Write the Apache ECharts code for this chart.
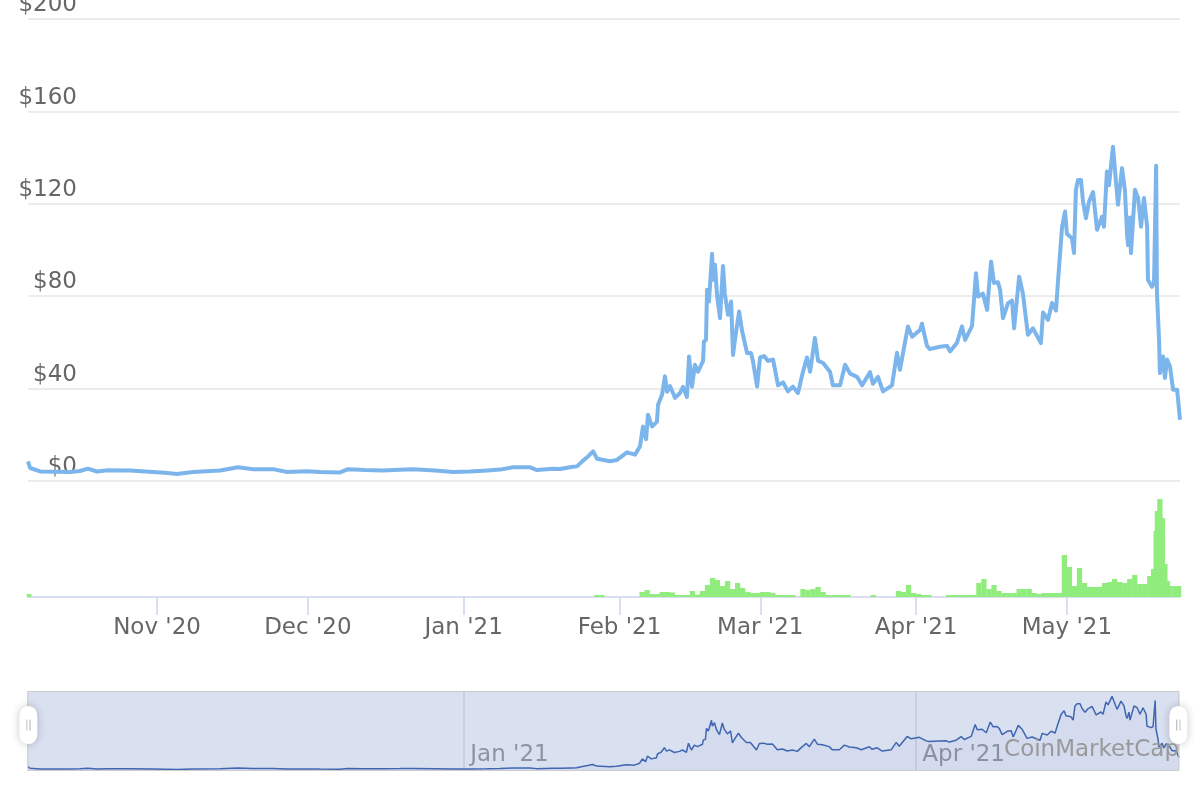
<!DOCTYPE html>
<html>
<head>
<meta charset="utf-8">
<script src="https://cdn.jsdelivr.net/npm/echarts@6/dist/echarts.min.js"></script>
<style>html,body{margin:0;padding:0;background:#fff}#c{width:1200px;height:800px}</style>
</head>
<body>
<div id="c"></div>
<script>
const priceTimes = [
'2020-10-06 08:00','2020-10-06 18:00','2020-10-07 03:00','2020-10-08 18:00','2020-10-11 17:00','2020-10-14 16:00','2020-10-16 16:00','2020-10-18 06:00','2020-10-20 01:00','2020-10-22 06:00','2020-10-26 15:00','2020-10-31 05:00',
'2020-11-02 14:00','2020-11-04 23:00','2020-11-08 04:00','2020-11-13 13:00','2020-11-17 03:00','2020-11-20 02:00','2020-11-24 02:00','2020-11-26 21:00','2020-11-30 20:00',
'2020-12-03 10:00','2020-12-07 10:00','2020-12-09 00:00','2020-12-12 09:00','2020-12-15 23:00','2020-12-19 08:00','2020-12-21 22:00','2020-12-26 07:00','2020-12-29 21:00',
'2021-01-02 06:00','2021-01-05 16:00','2021-01-08 06:00','2021-01-10 20:00','2021-01-14 05:00','2021-01-15 14:00','2021-01-18 19:00','2021-01-20 04:00','2021-01-22 18:00','2021-01-23 13:00','2021-01-24 18:00','2021-01-25 18:00','2021-01-26 18:00','2021-01-27 13:00','2021-01-30 03:00','2021-01-31 12:00',
'2021-02-02 12:00','2021-02-04 02:00','2021-02-05 02:00','2021-02-05 16:00','2021-02-06 07:00','2021-02-06 16:00','2021-02-07 11:00','2021-02-08 11:00','2021-02-08 16:00','2021-02-09 11:00','2021-02-10 01:00','2021-02-10 11:00','2021-02-11 01:00','2021-02-12 01:00','2021-02-13 01:00','2021-02-13 15:00','2021-02-14 10:00','2021-02-14 20:00','2021-02-15 10:00','2021-02-16 00:00','2021-02-16 15:00','2021-02-17 15:00','2021-02-17 19:00','2021-02-18 05:00','2021-02-18 10:00','2021-02-18 19:00','2021-02-19 10:00','2021-02-19 14:00','2021-02-20 00:00','2021-02-20 10:00','2021-02-21 00:00','2021-02-21 14:00','2021-02-21 23:00','2021-02-22 14:00','2021-02-23 05:00','2021-02-23 14:00','2021-02-23 23:00','2021-02-24 19:00','2021-02-25 09:00','2021-02-26 09:00','2021-02-27 04:00','2021-02-27 13:00','2021-02-28 09:00','2021-02-28 23:00',
'2021-03-01 18:00','2021-03-02 13:00','2021-03-03 13:00','2021-03-04 13:00','2021-03-05 13:00','2021-03-06 12:00','2021-03-07 12:00','2021-03-08 12:00','2021-03-09 12:00','2021-03-10 07:00','2021-03-10 22:00','2021-03-11 21:00','2021-03-12 12:00','2021-03-13 12:00','2021-03-14 21:00','2021-03-15 11:00','2021-03-16 21:00','2021-03-17 21:00','2021-03-18 21:00','2021-03-20 06:00','2021-03-21 06:00','2021-03-22 20:00','2021-03-23 10:00','2021-03-24 10:00','2021-03-25 10:00','2021-03-27 05:00','2021-03-28 05:00','2021-03-28 19:00','2021-03-30 09:00','2021-03-31 05:00',
'2021-04-01 19:00','2021-04-02 04:00','2021-04-03 04:00','2021-04-03 18:00','2021-04-05 18:00','2021-04-07 04:00','2021-04-07 18:00','2021-04-09 03:00','2021-04-10 03:00','2021-04-10 18:00','2021-04-12 03:00','2021-04-12 22:00','2021-04-13 08:00','2021-04-14 07:00','2021-04-15 03:00','2021-04-15 22:00','2021-04-16 12:00','2021-04-17 07:00','2021-04-17 17:00','2021-04-18 07:00','2021-04-19 07:00','2021-04-20 02:00','2021-04-20 12:00','2021-04-21 12:00','2021-04-22 06:00','2021-04-23 06:00','2021-04-24 06:00','2021-04-25 20:00','2021-04-26 06:00','2021-04-27 06:00','2021-04-28 01:00','2021-04-28 20:00','2021-04-29 06:00','2021-04-30 01:00','2021-04-30 15:00',
'2021-05-01 00:00','2021-05-02 00:00','2021-05-02 10:00','2021-05-02 19:00','2021-05-03 05:00','2021-05-03 19:00','2021-05-04 05:00','2021-05-04 19:00','2021-05-05 10:00','2021-05-06 05:00','2021-05-07 00:00','2021-05-07 23:00','2021-05-08 09:00','2021-05-08 23:00','2021-05-09 09:00','2021-05-10 04:00','2021-05-10 14:00','2021-05-11 04:00','2021-05-11 23:00','2021-05-12 13:00','2021-05-12 23:00','2021-05-13 04:00','2021-05-13 13:00','2021-05-13 18:00','2021-05-14 13:00','2021-05-15 04:00','2021-05-15 18:00','2021-05-16 08:00','2021-05-16 23:00','2021-05-17 03:00','2021-05-17 22:00','2021-05-18 08:00','2021-05-18 18:00','2021-05-18 22:00','2021-05-19 08:00','2021-05-19 12:00','2021-05-20 03:00','2021-05-20 12:00','2021-05-20 22:00','2021-05-21 12:00','2021-05-22 03:00','2021-05-22 22:00','2021-05-23 03:00','2021-05-23 12:00'
];
const priceValues = [
8.4,5.5,4.8,4.0,3.9,3.8,4.2,5.2,4.0,4.5,4.4,3.8,
3.4,2.9,3.8,4.4,5.8,5.0,5.0,3.8,4.1,
3.8,3.6,5.0,4.6,4.4,4.7,5.0,4.4,3.8,
4.0,4.4,4.8,5.8,5.8,4.6,5.2,5.1,6.0,6.2,8.7,10.5,12.7,9.5,8.4,9.0,
12.3,11.3,14.9,23.5,18.0,28.6,23.5,25.6,32.9,37.2,45.2,38.5,41.0,35.9,38.0,40.7,36.3,53.8,40.7,50.2,47.2,51.9,60.3,61.0,82.7,77.6,98.3,87.0,93.5,80.0,70.4,93.0,81.0,71.9,77.6,54.5,61.0,73.3,65.0,55.3,55.3,51.9,40.8,53.4,
54.0,51.9,52.5,41.3,42.6,38.7,40.7,38.0,47.2,53.4,47.2,61.8,52.0,51.0,47.2,41.3,41.3,50.2,46.4,45.0,41.3,47.0,42.0,45.0,38.7,41.3,55.4,48.0,66.8,62.4,
65.3,68.0,58.4,57.0,58.0,58.4,56.0,59.7,66.8,61.0,67.0,89.9,79.8,81.0,74.0,94.9,85.7,86.0,82.7,70.4,76.9,78.0,66.0,88.4,81.0,63.2,66.0,59.6,72.9,69.7,77.0,73.7,87.0,110.0,116.6,
107.0,105.0,98.6,126.0,130.3,130.3,121.0,113.7,121.0,125.0,108.7,114.3,110.0,133.9,128.0,144.7,134.0,119.5,135.4,126.0,107.0,102.0,114.0,98.6,126.0,122.5,110.0,122.5,110.0,87.0,84.0,85.7,136.4,81.0,61.0,46.6,53.8,44.5,52.5,49.6,39.4,39.4,35.0,26.4
];
const volumeTimes = [
'2020-10-06 12:00','2021-01-27 12:00','2021-01-28 12:00',
'2021-02-05 12:00','2021-02-06 12:00','2021-02-07 12:00','2021-02-08 12:00','2021-02-09 12:00','2021-02-10 12:00','2021-02-11 12:00','2021-02-12 12:00','2021-02-13 12:00','2021-02-14 12:00','2021-02-15 12:00','2021-02-16 12:00','2021-02-17 12:00','2021-02-18 12:00','2021-02-19 12:00','2021-02-20 12:00','2021-02-21 12:00','2021-02-22 12:00','2021-02-23 12:00','2021-02-24 12:00','2021-02-25 12:00','2021-02-26 12:00','2021-02-27 12:00','2021-02-28 12:00',
'2021-03-01 12:00','2021-03-02 12:00','2021-03-03 12:00','2021-03-04 12:00','2021-03-05 12:00','2021-03-06 12:00','2021-03-07 12:00','2021-03-09 12:00','2021-03-10 12:00','2021-03-11 12:00','2021-03-12 12:00','2021-03-13 12:00','2021-03-14 12:00','2021-03-15 12:00','2021-03-16 12:00','2021-03-17 12:00','2021-03-18 12:00','2021-03-23 12:00','2021-03-28 12:00','2021-03-29 12:00','2021-03-30 12:00','2021-03-31 12:00',
'2021-04-01 12:00','2021-04-02 12:00','2021-04-03 12:00','2021-04-07 12:00','2021-04-08 12:00','2021-04-09 12:00','2021-04-10 12:00','2021-04-11 12:00','2021-04-12 12:00','2021-04-13 12:00','2021-04-14 12:00','2021-04-15 12:00','2021-04-16 12:00','2021-04-17 12:00','2021-04-18 12:00','2021-04-19 12:00','2021-04-20 12:00','2021-04-21 12:00','2021-04-22 12:00','2021-04-23 12:00','2021-04-24 12:00','2021-04-25 12:00','2021-04-26 12:00','2021-04-27 12:00','2021-04-28 12:00','2021-04-29 12:00','2021-04-30 12:00',
'2021-05-01 12:00','2021-05-02 12:00','2021-05-03 12:00','2021-05-04 12:00','2021-05-05 12:00','2021-05-06 12:00','2021-05-07 12:00','2021-05-08 12:00','2021-05-09 12:00','2021-05-10 12:00','2021-05-11 12:00','2021-05-12 12:00','2021-05-13 12:00','2021-05-14 12:00','2021-05-15 12:00','2021-05-16 12:00','2021-05-17 12:00','2021-05-18 06:00','2021-05-18 18:00','2021-05-19 00:00','2021-05-19 12:00','2021-05-20 00:00','2021-05-20 12:00','2021-05-21 00:00','2021-05-21 12:00','2021-05-22 12:00','2021-05-23 06:00'
];
const volumeValues = [
30,20,20,
50,70,30,30,50,50,45,20,20,20,60,25,60,120,190,170,110,160,80,140,90,50,40,40,
50,50,40,20,20,20,20,80,70,80,100,50,20,20,20,20,20,20,60,50,120,40,
30,20,20,20,20,20,20,20,20,140,180,80,120,60,40,40,40,80,80,80,40,30,40,40,40,40,420,
300,110,290,140,100,100,100,140,150,180,150,140,180,220,130,130,210,280,660,860,980,790,330,160,110,110,110
];
const monthTicks = ['2020-11-01 00:00','2020-12-01 00:00','2021-01-01 00:00','2021-02-01 00:00','2021-03-01 00:00','2021-04-01 00:00','2021-05-01 00:00'];
const monthLabels = ["Nov '20","Dec '20","Jan '21","Feb '21","Mar '21","Apr '21","May '21"];
const navTicks = ['2021-01-01 00:00','2021-04-01 00:00'];
const navLabels = ["Jan '21","Apr '21"];
const priceTickLabels = ['$0','$40','$80','$120','$160','$200'];
const rangeStart = '2020-10-06 08:00';
const rangeEnd = '2021-05-23 12:00';

function ts(s){
  const [d,t] = s.split(' ');
  const [y,m,dd] = d.split('-').map(Number);
  const [h,mi] = t.split(':').map(Number);
  return Date.UTC(y,m-1,dd,h,mi);
}
const priceData = priceTimes.map((t,i)=>[ts(t),priceValues[i]]);
const volumeData = volumeTimes.map((t,i)=>[ts(t),volumeValues[i]]);
const monthTickTs = monthTicks.map(ts);
const navTickTs = navTicks.map(ts);
const xMin = ts(rangeStart), xMax = ts(rangeEnd);
const FONT = 'DejaVu Sans';
function lab(arr, names){ return (v)=>{ const i = arr.findIndex(a=>Math.abs(a-v)<1000); return i>=0 ? names[i] : ''; }; }

const chart = echarts.init(document.getElementById('c'), null, {renderer:'canvas'});
const handlePath = 'path://M8,0A8,8 0 0 1 16,8V26A8,8 0 0 1 8,34A8,8 0 0 1 0,26V8A8,8 0 0 1 8,0Z M6,12V22H7V12Z M9,12V22H10V12Z M8,-10.7L8.01,-10.7Z';
chart.setOption({
  animation:false,
  backgroundColor:'#fff',
  textStyle:{fontFamily:FONT},
  grid:[
    {left:28,right:20,top:19,height:461.7,outerBoundsMode:'none',containLabel:false},
    {left:28,right:20,top:480.7,height:116.3,outerBoundsMode:'none',containLabel:false},
    {left:28,right:21,top:691,height:80,outerBoundsMode:'none',containLabel:false}
  ],
  xAxis:[
    {type:'value',gridIndex:0,min:xMin,max:xMax,show:false,splitLine:{show:false}},
    {type:'value',gridIndex:1,min:xMin,max:xMax,
      axisLine:{show:true,onZero:false,lineStyle:{color:'#ccd6eb',width:1.5}},
      axisTick:{show:true,length:18,lineStyle:{color:'#ccd6eb',width:1.5},customValues:monthTickTs},
      axisLabel:{customValues:monthTickTs,color:'#666',fontSize:23,fontFamily:FONT,margin:20,
        formatter:lab(monthTickTs,monthLabels)},
      splitLine:{show:false}},
    {type:'value',gridIndex:2,min:xMin,max:xMax,
      axisLine:{show:false},
      axisTick:{show:false,customValues:navTickTs},
      axisLabel:{inside:true,customValues:navTickTs,color:'#999',fontSize:23,fontFamily:FONT,margin:4,align:'left',padding:[0,0,0,7],
        formatter:lab(navTickTs,navLabels)},
      splitLine:{show:true,customValues:navTickTs,lineStyle:{color:'#e0e0e0',width:1.5}}}
  ],
  yAxis:[
    {type:'value',gridIndex:0,min:0,max:200,interval:40,
      axisLine:{show:false},axisTick:{show:false},
      splitLine:{lineStyle:{color:'#e6e6e6',width:1.5}},
      axisLabel:{color:'#666',fontSize:23,fontFamily:FONT,margin:-49,align:'right',verticalAlign:'bottom',padding:[0,0,2,0],
        formatter:(v)=>priceTickLabels[Math.round(v/40)]}},
    {type:'value',gridIndex:1,min:0,max:1163,show:false,splitLine:{show:false}},
    {type:'value',gridIndex:2,min:0,max:155,show:false,splitLine:{show:false}}
  ],
  dataZoom:[{
    type:'slider',xAxisIndex:[0,1],start:0,end:100,
    left:27,right:21,top:691,height:80,
    backgroundColor:'rgba(0,0,0,0)',
    borderColor:'#cccccc',borderRadius:0,
    fillerColor:'rgba(102,133,194,0.25)',
    showDataShadow:false,showDetail:false,brushSelect:false,
    moveHandleSize:0,
    handleIcon:handlePath,handleSize:50,
    handleStyle:{color:'#ffffff',borderColor:'rgba(0,0,0,0)',borderWidth:0,shadowBlur:8,shadowColor:'rgba(0,0,0,0.22)'},
    emphasis:{handleStyle:{color:'#ffffff',borderColor:'rgba(0,0,0,0)'}},
    dataBackground:{lineStyle:{opacity:0},areaStyle:{opacity:0}},
    selectedDataBackground:{lineStyle:{opacity:0},areaStyle:{opacity:0}}
  }],
  series:[
    {type:'line',xAxisIndex:0,yAxisIndex:0,data:priceData,showSymbol:false,
      lineStyle:{color:'#7cb5ec',width:4,join:'round'},itemStyle:{color:'#7cb5ec'},z:3},
    {type:'bar',xAxisIndex:1,yAxisIndex:1,data:volumeData,barWidth:5.3,
      itemStyle:{color:'#90ed7d'}},
    {type:'line',xAxisIndex:2,yAxisIndex:2,data:priceData,showSymbol:false,
      lineStyle:{color:'#335cad',width:1.5},areaStyle:{color:'rgba(51,92,173,0.05)'}}
  ],
  graphic:[
    {type:'text',right:21,top:739,z:100,silent:true,
      style:{text:'CoinMarketCap',fontSize:23,fontFamily:FONT,fill:'#999'}}
  ]
});
</script>
</body>
</html>
